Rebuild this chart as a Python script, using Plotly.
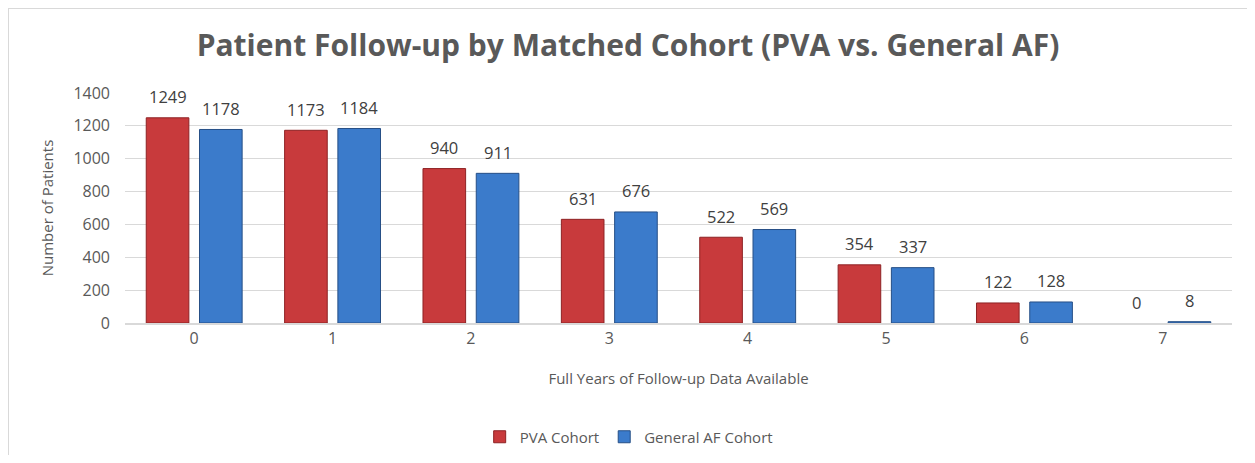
import plotly.graph_objects as go

years = ["0", "1", "2", "3", "4", "5", "6", "7"]
pva = [1249, 1173, 940, 631, 522, 354, 122, 0]
general = [1178, 1184, 911, 676, 569, 337, 128, 8]
title_text = "Patient Follow-up by Matched Cohort (PVA vs. General AF)"
x_title = "Full Years of Follow-up Data Available"
y_title = "Number of Patients"
y_ticks = [0, 200, 400, 600, 800, 1000, 1200, 1400]

font_family = "Open Sans, Lato, sans-serif"
label_color = "#404040"

# page body has an 8px margin: figure sized to sit in the 1255x463 window
W, H = 1247, 447
L, T, PW, PH = 117, 85, 1107, 230
R, B = W - L - PW, H - T - PH
BARGAP = 0.23
slot_px = PW / len(years) * (1 - BARGAP) / 2

fig = go.Figure()
fig.add_trace(go.Bar(
    x=years, y=pva, name="PVA Cohort",
    marker=dict(color="#C83A3C",
                line=dict(color="#8E2224", width=[1 if v > 0 else 0 for v in pva])),
))
fig.add_trace(go.Bar(
    x=years, y=general, name="General AF Cohort",
    marker=dict(color="#3B7BCB", line=dict(color="#264F86", width=1)),
))

annotations = []
for series, sign in ((pva, -1), (general, 1)):
    for cat, v in zip(years, series):
        annotations.append(dict(
            x=cat, y=v, xref="x", yref="y", text=str(v), showarrow=False,
            xshift=sign * slot_px / 2, yshift=21, yanchor="middle",
            font=dict(size=16.5, color=label_color, family=font_family),
        ))

fig.update_layout(
    width=W, height=H,
    margin=dict(l=L, r=R, t=T, b=B, autoexpand=False),
    paper_bgcolor="white", plot_bgcolor="white",
    barmode="group", bargap=BARGAP, bargroupgap=0.2,
    font=dict(family=font_family, size=15, color="#595959"),
    title=dict(text="<b>" + title_text + "</b>", x=(628 - 8) / W, xanchor="center",
               y=1 - (45 - 8) / H, yanchor="middle",
               font=dict(size=30, color="#595959", family=font_family)),
    showlegend=True,
    legend=dict(orientation="h", x=0.455, xanchor="center", y=-(437 - 323) / PH,
                yanchor="middle", font=dict(size=15, color="#595959"), traceorder="normal"),
    xaxis=dict(
        type="category", showgrid=False, showline=True, linecolor="#D9D9D9", linewidth=1.5,
        ticks="", tickfont=dict(size=16, color="#595959"),
        title=dict(text=x_title, standoff=26, font=dict(size=15, color="#595959")),
    ),
    yaxis=dict(
        range=[0, 1400], tickvals=y_ticks, showgrid=True, gridcolor="#D9D9D9", gridwidth=1,
        zeroline=False, showline=False, ticks="", ticklabelstandoff=14,
        tickfont=dict(size=16, color="#595959"),
        title=dict(text=y_title, standoff=16, font=dict(size=15, color="#595959")),
    ),
    annotations=annotations,
    shapes=[dict(type="rect", xref="paper", yref="paper",
                 x0=(8 - 125) / PW, x1=(1250 - 125) / PW,
                 y0=(323 - 480) / PH, y1=(323 - 8) / PH,
                 line=dict(color="#D9D9D9", width=2), layer="below")],
)

fig.write_html("out.html")
